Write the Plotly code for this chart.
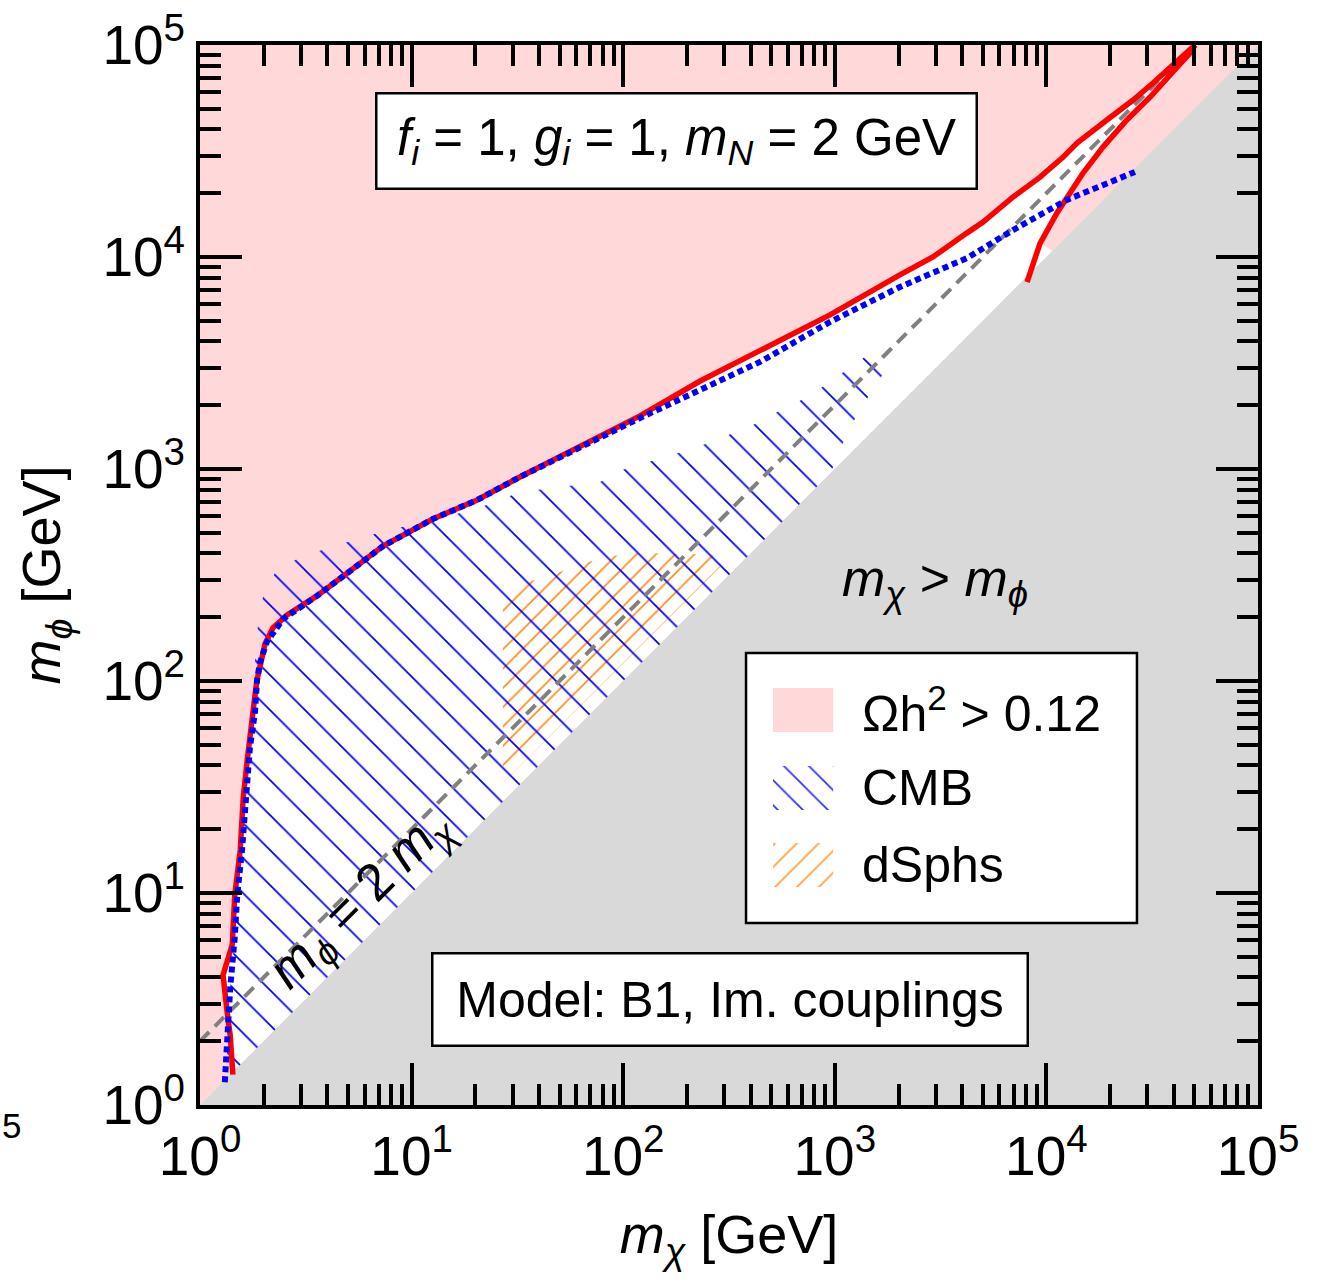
import plotly.graph_objects as go

# ---------------- data ----------------
# Omega h^2 = 0.12 contour, main (upper) branch
relic_x = [1.43, 1.39, 1.34, 1.285, 1.42, 1.46, 1.55, 1.6, 1.67, 1.76,
           1.82, 1.86, 1.92, 2.03, 2.21, 2.58, 3.57, 5.12, 7.33, 12.6,
           20.4, 32.5, 62.5, 120, 231, 443, 949, 2030, 2910, 4220,
           5020, 6960, 9330, 12000, 13950, 19300, 25700, 31900, 39700, 47700,
           50400]
relic_y = [1.39, 2.12, 2.8, 4.1, 5.7, 9.8, 16, 28, 42, 61,
           86, 101, 119, 150, 178, 205, 252, 330, 433, 581,
           714, 917, 1270, 1780, 2600, 3600, 5330, 8230, 10000, 13000,
           14600, 19200, 23800, 29600, 34500, 44300, 55000, 66200, 80500, 94700,
           100000]

# Omega h^2 = 0.12 contour, right (resonance) branch
branch_x = [8100, 9330, 11200, 12500, 14900, 18500, 24000, 30900, 39700, 47700, 50400]
branch_y = [7620, 11600, 16100, 19200, 24900, 33000, 44300, 56800, 74600, 91700, 100000]

# where the allowed (white) region meets m_chi = m_phi
allowed_edge_x = [10700, 1.4]
allowed_edge_y = [10700, 1.4]

# CMB bound (blue dotted)
cmb_x = [1.31, 1.34, 1.39, 1.46, 1.5, 1.58, 1.72, 1.82, 1.86, 1.92,
         2.07, 2.47, 3.57, 5.12, 7.33, 12.6, 20.4, 32.5, 62.5, 120,
         231, 443, 949, 2030, 4220, 6960, 12500, 17900, 26200]
cmb_y = [1.28, 1.94, 3.6, 6.2, 9.8, 16, 48, 72, 101, 122,
         153, 196, 252, 330, 433, 581, 714, 917, 1270, 1740,
         2360, 3200, 4940, 7220, 9890, 13400, 18600, 21400, 25200]

# CMB excluded (hatched) region
cmbreg_x = [1.34, 1.34, 1.39, 1.46, 1.5, 1.58, 1.72, 1.82, 1.82, 1.88,
            1.99, 2.26, 2.87, 3.77, 5.0, 6.71, 9.0, 12.6, 16.9, 22.7,
            32.5, 50.3, 77.7, 98.7, 131, 176, 231, 306, 402, 511,
            656, 833, 1035, 1287, 1600, 1884, 1600, 1389, 1206, 1070,
            959, 806]
cmbreg_y = [1.34, 1.94, 3.6, 6.2, 9.8, 16, 48, 72, 133, 184,
            254, 323, 376, 415, 452, 494, 533, 562, 620, 676,
            779, 822, 869, 989, 1080, 1177, 1284, 1431, 1595, 1817,
            2048, 2358, 2746, 3197, 3763, 3232, 2602, 2070, 1631, 1270,
            968, 806]

# dSphs excluded (hatched) region
dsph_x = [27, 27, 35.5, 48.7, 68.2, 89.5, 114, 140, 172, 214, 263, 287]
dsph_y = [33, 223, 293, 323, 364, 389, 402, 402, 397, 397, 393, 345]

# kinematically closed region m_chi > m_phi
kin_x = [1, 100000, 100000]
kin_y = [1, 100000, 1]

# m_phi = 2 m_chi line
line_x = [1, 50000]
line_y = [2 * v for v in line_x]

tick_vals = [1, 10, 100, 1000, 10000, 100000]
tick_text = ["10<sup>0</sup>", "10<sup>1</sup>", "10<sup>2</sup>",
             "10<sup>3</sup>", "10<sup>4</sup>", "10<sup>5</sup>"]

# legend (drawn by hand in its own small axes)
leg_labels = ["Ωh<sup>2</sup> &gt; 0.12", "CMB", "dSphs"]
leg_rows = [0.789, 0.5, 0.2145]

# ---------------- styles ----------------
FONT = "Liberation Sans, Arial, Helvetica, sans-serif"
PINK = "#FFD9D9"
GRAY = "#D9D9D9"
ORANGE = "rgb(255,140,20)"
BLUE = "#0000FF"
RED = "#FF0000"
NOFILL = "rgba(0,0,0,0)"

fig = go.Figure()

fig.add_trace(go.Scatter(
    x=relic_x + branch_x[::-1][1:-1] + allowed_edge_x,
    y=relic_y + branch_y[::-1][1:-1] + allowed_edge_y,
    fill="toself", fillcolor="white", mode="none",
    hoverinfo="skip", showlegend=False))

fig.add_trace(go.Scatter(x=kin_x, y=kin_y, fill="toself", fillcolor=GRAY,
                         mode="none", hoverinfo="skip", showlegend=False))

fig.add_trace(go.Scatter(
    x=dsph_x, y=dsph_y, fill="toself", fillcolor=NOFILL, mode="none",
    fillpattern=dict(shape="/", fgcolor=ORANGE, bgcolor=NOFILL, fgopacity=1,
                     fillmode="replace", size=13.65, solidity=0.12),
    hoverinfo="skip", showlegend=False, name="dSphs"))

fig.add_trace(go.Scatter(
    x=cmbreg_x, y=cmbreg_y, fill="toself", fillcolor=NOFILL, mode="none",
    fillpattern=dict(shape="\\", fgcolor=BLUE, bgcolor=NOFILL, fgopacity=1,
                     fillmode="replace", size=24.75, solidity=0.07),
    hoverinfo="skip", showlegend=False, name="CMB"))

fig.add_trace(go.Scatter(x=line_x, y=line_y, mode="lines",
                         line=dict(color="#808080", width=4, dash="13px,8px"),
                         hoverinfo="skip", showlegend=False))

fig.add_trace(go.Scatter(x=relic_x, y=relic_y, mode="lines",
                         line=dict(color=RED, width=5.5),
                         hoverinfo="skip", showlegend=False))
fig.add_trace(go.Scatter(x=branch_x, y=branch_y, mode="lines",
                         line=dict(color=RED, width=5.5),
                         hoverinfo="skip", showlegend=False))
fig.add_trace(go.Scatter(x=cmb_x, y=cmb_y, mode="lines",
                         line=dict(color=BLUE, width=6, dash="6px,4px"),
                         hoverinfo="skip", showlegend=False))

# ---------------- hand-made legend ----------------
sw_u = [0.069, 0.223, 0.223, 0.069]
sw_h = 0.0815
fig.add_trace(go.Scatter(x=[0, 1, 1, 0], y=[0, 0, 1, 1], xaxis="x2", yaxis="y2",
                         fill="toself", fillcolor="white", mode="none",
                         hoverinfo="skip", showlegend=False))
swatch_styles = [
    dict(fillcolor=PINK),
    dict(fillcolor=NOFILL, fillpattern=dict(shape="\\", fgcolor=BLUE, bgcolor=NOFILL,
                                            fgopacity=0.8, fillmode="replace",
                                            size=17.7, solidity=0.1)),
    dict(fillcolor=NOFILL, fillpattern=dict(shape="/", fgcolor=ORANGE, bgcolor=NOFILL,
                                            fgopacity=0.8, fillmode="replace",
                                            size=15.5, solidity=0.12)),
]
for row, st in zip(leg_rows, swatch_styles):
    fig.add_trace(go.Scatter(
        x=sw_u, y=[row - sw_h, row - sw_h, row + sw_h, row + sw_h],
        xaxis="x2", yaxis="y2", fill="toself", mode="none",
        hoverinfo="skip", showlegend=False, **st))

annotations = []
for row, lab in zip(leg_rows, leg_labels):
    annotations.append(dict(x=0.2916, y=row, xref="x2", yref="y2", text=lab,
                            showarrow=False, xanchor="left", yanchor="middle",
                            font=dict(size=50, family=FONT, color="black")))

annotations += [
    dict(x=0.4504, y=0.9094, xref="paper", yref="paper",
         xanchor="center", yanchor="middle",
         text="<i>f</i><sub><i>i</i></sub> = 1, <i>g</i><sub><i>i</i></sub> = 1, "
              "<i>m</i><sub><i>N</i></sub> = 2 GeV",
         showarrow=False, font=dict(size=51, family=FONT, color="black"),
         bgcolor="white", bordercolor="black", borderwidth=2.5, borderpad=4,
         width=590, height=85),
    dict(x=0.5005, y=0.0995, xref="paper", yref="paper",
         xanchor="center", yanchor="middle",
         text="Model: B1, Im. couplings",
         showarrow=False, font=dict(size=50, family=FONT, color="black"),
         bgcolor="white", bordercolor="black", borderwidth=2.5, borderpad=4,
         width=585, height=82),
    dict(x=0.6947, y=0.4934, xref="paper", yref="paper",
         xanchor="center", yanchor="middle",
         text="<i>m</i><sub><i>χ</i></sub> &gt; <i>m</i><sub><i>ϕ</i></sub>",
         showarrow=False, font=dict(size=52, family=FONT, color="black")),
    dict(x=0.1531, y=0.1943, xref="paper", yref="paper",
         xanchor="center", yanchor="middle",
         text="<i>m</i><sub><i>ϕ</i></sub> = 2 <i>m</i><sub><i>χ</i></sub>",
         showarrow=False, textangle=-45,
         font=dict(size=52, family=FONT, color="black")),
    dict(x=-0.1777, y=-0.0189, xref="paper", yref="paper", text="5",
         xanchor="center", yanchor="middle",
         showarrow=False, font=dict(size=35, family=FONT, color="black")),
]

axis_common = dict(
    type="log", range=[0, 5], showline=True, linewidth=4, linecolor="black",
    mirror="allticks", ticks="inside", ticklen=42, tickwidth=3.5, tickcolor="black",
    tickmode="array", tickvals=tick_vals, ticktext=tick_text,
    tickfont=dict(size=55, family=FONT, color="black"),
    showgrid=False, zeroline=False, automargin=False,
    minor=dict(ticks="inside", ticklen=21, tickwidth=3.5, tickcolor="black",
               dtick="D1", showgrid=False),
)

fig.update_layout(
    width=1337, height=1283,
    margin=dict(l=200, r=79, t=45, b=178),
    paper_bgcolor="white", plot_bgcolor=PINK,
    showlegend=False,
    font=dict(family=FONT, color="black"),
    xaxis=dict(axis_common, title=dict(text="<i>m</i><sub><i>χ</i></sub> [GeV]",
                                       font=dict(size=54, family=FONT), standoff=30)),
    yaxis=dict(axis_common, title=dict(text="<i>m</i><sub><i>ϕ</i></sub> [GeV]",
                                       font=dict(size=54, family=FONT), standoff=25)),
    xaxis2=dict(domain=[0.5161, 0.8856], anchor="y2", range=[0, 1],
                visible=False, fixedrange=True),
    yaxis2=dict(domain=[0.1717, 0.4264], anchor="x2", range=[0, 1],
                visible=False, fixedrange=True),
    annotations=annotations,
    shapes=[dict(type="rect", xref="paper", yref="paper",
                 x0=0.5161, x1=0.8856, y0=0.1717, y1=0.4264,
                 line=dict(color="black", width=2.5), fillcolor=NOFILL,
                 layer="above")],
)

fig.write_html("out.html")
